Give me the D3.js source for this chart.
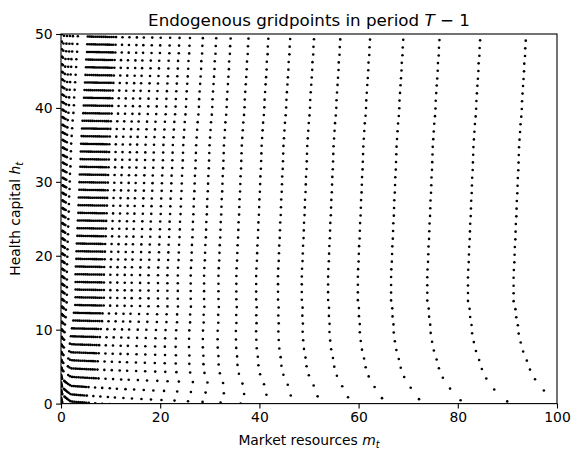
<!DOCTYPE html>
<html lang="en">
<head>
<meta charset="utf-8">
<title>Endogenous gridpoints</title>
<script src="https://cdn.jsdelivr.net/npm/d3@7"></script>
<style>
body { margin: 0; background: #fff; }
text { font-family: "DejaVu Sans", sans-serif; fill: #000; }
.tick text { font-size: 13.9px; }
</style>
</head>
<body>
<div id="chart"></div>
<script>
// columns: market resources of each end-of-period gridpoint on the top row
var colTop = [0.05, 0.6, 1.2, 1.8, 2.4, 3.4,
  5.4, 5.8, 6.2, 6.6, 7.0, 7.4, 7.8, 8.2, 8.6, 9.0, 9.4, 9.8, 10.2, 10.6,
  11.1, 12.4, 13.8, 15.3, 16.7, 18.4, 20.1, 22.0, 23.9, 26.0, 28.6, 31.3, 34.2, 37.8, 41.8,
  46.2, 51.0, 56.3, 62.3, 69.0, 76.3, 84.5, 93.7];
// share of a row's health drop reached by each column
var colDrop = [0.016, 0.062, 0.091, 0.114, 0.133, 0.161,
  0.208, 0.216, 0.224, 0.232, 0.240, 0.247, 0.255, 0.262, 0.269, 0.276, 0.283, 0.289, 0.295, 0.302,
  0.309, 0.329, 0.349, 0.369, 0.387, 0.408, 0.429, 0.451, 0.472, 0.494, 0.521, 0.547, 0.575, 0.607, 0.641,
  0.678, 0.716, 0.756, 0.799, 0.845, 0.893, 0.945, 1.0];

// rows, top to bottom: health at the left edge
var rowH = [49.80, 48.76, 47.72, 46.69, 45.65, 44.61, 43.57, 42.54, 41.50, 40.46,
  39.42, 38.39, 37.35, 36.31, 35.27, 34.23, 33.20, 32.16, 31.12, 30.08,
  29.05, 28.01, 26.97, 25.93, 24.90, 23.86, 22.82, 21.78, 20.74, 19.71,
  18.67, 17.63, 16.59, 15.56, 14.52, 13.48, 12.44, 11.41, 10.37, 9.33,
  8.29, 7.25, 6.22, 5.18, 4.14, 3.10, 2.07, 1.03, -0.01];
// health lost between the left edge and the right-most column
var rowDrop = [0.7, 0.7, 0.7, 0.7, 0.7, 0.7, 0.6, 0.6, 0.6, 0.6,
  0.6, 0.6, 0.6, 0.6, 0.6, 0.6, 0.6, 0.6, 0.6, 0.6,
  0.6, 0.6, 0.6, 0.6, 0.6, 0.6, 0.6, 0.6, 0.6, 0.6,
  0.6, 0.6, 0.64, 0.64, 0.66, 0.70, 0.76, 0.82, 0.90, 1.07,
  1.24, 1.43, 1.62, 1.88, 2.36, 2.8, 3.2, 3.0, 3.2];
// sideways move of each row in market resources
var rowShift = [0, -0.1, -0.15, -0.3, -0.35, -0.45, -0.55, -0.65, -0.75, -0.8,
  -0.9, -1.05, -1.15, -1.25, -1.35, -1.4, -1.45, -1.5, -1.6, -1.65,
  -1.7, -1.8, -1.85, -1.9, -2.0, -2.05, -2.1, -2.2, -2.25, -2.3,
  -2.4, -2.45, -2.45, -2.45, -2.45, -2.55, -2.85, -3.0, -3.3, -3.55,
  -3.8, -4.0, -4.3, -4.5, -4.5, -5.8, -6.0, -5.5, -5.5];
// outward bulge of the columns near the bottom
var rowBulge = [0, 0, 0, 0, 0, 0, 0, 0, 0, 0,
  0, 0, 0, 0, 0, 0, 0, 0, 0, 0,
  0, 0, 0, 0, 0, 0, 0, 0, 0, 0,
  0, 0, 0, 0, 0, 0.005, 0.01, 0.015, 0.02, 0.027,
  0.035, 0.045, 0.055, 0.068, 0.087, 0.022, 0.01, 0, 0];
// how far the points piled at m = 0 curl upward
var rowCurl = [0.3, 0.32, 0.33, 0.35, 0.36, 0.38, 0.39, 0.41, 0.42, 0.44,
  0.45, 0.47, 0.48, 0.5, 0.51, 0.53, 0.54, 0.56, 0.57, 0.59,
  0.6, 0.61, 0.62, 0.63, 0.64, 0.65, 0.66, 0.67, 0.68, 0.69,
  0.7, 0.71, 0.72, 0.73, 0.74, 0.75, 0.76, 0.77, 0.78, 0.79,
  0.8, 0.8, 0.81, 0.81, 0.82, 0.82, 0.83, 0.84, 0.85];
// width (in m) of the curl at the left edge
var rowCurlWidth = [0.4, 0.5, 0.6, 0.7, 0.8, 0.9, 1.0, 1.1, 1.2, 1.3,
  1.4, 1.5, 1.6, 1.7, 1.8, 1.9, 2.0, 2.0, 2.0, 2.0,
  2.0, 2.0, 2.0, 2.0, 2.0, 2.0, 2.0, 2.0, 2.0, 2.0,
  2.0, 2.0, 2.0, 2.0, 2.0, 2.0, 2.0, 2.0, 2.0, 2.0,
  2.0, 2.0, 2.0, 2.0, 2.0, 2.0, 2.0, 2.0, 2.0];

var xTicks = [0, 20, 40, 60, 80, 100];
var yTicks = [0, 10, 20, 30, 40, 50];

var w = 580, h = 460;
var plotL = 61, plotR = 557, plotT = 34, plotB = 403.6;

var svg = d3.select("#chart").append("svg")
  .attr("width", w).attr("height", h);

var x = d3.scaleLinear().domain([0, 100]).range([plotL, plotR]);
var y = d3.scaleLinear().domain([0, 50]).range([plotB, plotT]);

// grid table
var points = [];
rowH.forEach(function(h0, i) {
  var c = rowCurlWidth[i];
  colTop.forEach(function(m0, j) {
    var raw = m0 * (1 + rowBulge[i]) + rowShift[i];
    var m = raw, lift = 0;
    if (raw < c) {
      var t = (c - raw) / c;
      m = c * Math.exp(-t);
      lift = rowCurl[i] * (1 - Math.exp(-t));
    }
    points.push({m: m, h: h0 - rowDrop[i] * colDrop[j] + lift});
  });
});

svg.append("clipPath").attr("id", "plotclip")
  .append("rect")
  .attr("x", plotL).attr("y", plotT)
  .attr("width", plotR - plotL).attr("height", plotB - plotT);

svg.append("g")
  .attr("clip-path", "url(#plotclip)")
  .selectAll("circle")
  .data(points)
  .enter()
  .append("circle")
  .attr("cx", function(d) { return x(d.m); })
  .attr("cy", function(d) { return y(d.h); })
  .attr("r", 1.3)
  .attr("fill", "#000");

// axes
var xAxis = d3.axisBottom(x).tickValues(xTicks).tickSize(4.9).tickSizeOuter(0).tickPadding(3.5);
var yAxis = d3.axisLeft(y).tickValues(yTicks).tickSize(4.9).tickSizeOuter(0).tickPadding(3.5);

var gx = svg.append("g")
  .attr("transform", "translate(0," + plotB + ")")
  .call(xAxis);
var gy = svg.append("g")
  .attr("transform", "translate(" + plotL + ",0)")
  .call(yAxis);

[gx, gy].forEach(function(g) {
  g.select(".domain").remove();
  g.selectAll(".tick line").attr("stroke", "#000").attr("stroke-width", 1.1);
  g.selectAll(".tick text").attr("fill", "#000").style("font-family", "DejaVu Sans");
});

svg.append("rect")
  .attr("x", plotL).attr("y", plotT)
  .attr("width", plotR - plotL).attr("height", plotB - plotT)
  .attr("fill", "none")
  .attr("stroke", "#000")
  .attr("stroke-width", 1.1);

// title
var title = svg.append("text")
  .attr("x", (plotL + plotR) / 2)
  .attr("y", 26)
  .attr("text-anchor", "middle")
  .style("font-size", "16.7px");
title.append("tspan").text("Endogenous gridpoints in period ");
title.append("tspan").style("font-style", "italic").text("T");
title.append("tspan").text(" \u2212 1");

// x label
var xl = svg.append("text")
  .attr("x", (plotL + plotR) / 2)
  .attr("y", 445)
  .attr("text-anchor", "middle")
  .style("font-size", "13.9px");
xl.append("tspan").text("Market resources ");
xl.append("tspan").style("font-style", "italic").text("m");
xl.append("tspan").style("font-style", "italic").style("font-size", "9.7px")
  .attr("dy", "3").text("t");

// y label
var yl = svg.append("text")
  .attr("transform", "translate(20," + ((plotT + plotB) / 2) + ") rotate(-90)")
  .attr("text-anchor", "middle")
  .style("font-size", "13.9px");
yl.append("tspan").text("Health capital ");
yl.append("tspan").style("font-style", "italic").text("h");
yl.append("tspan").style("font-style", "italic").style("font-size", "9.7px")
  .attr("dy", "3").text("t");
</script>
</body>
</html>
